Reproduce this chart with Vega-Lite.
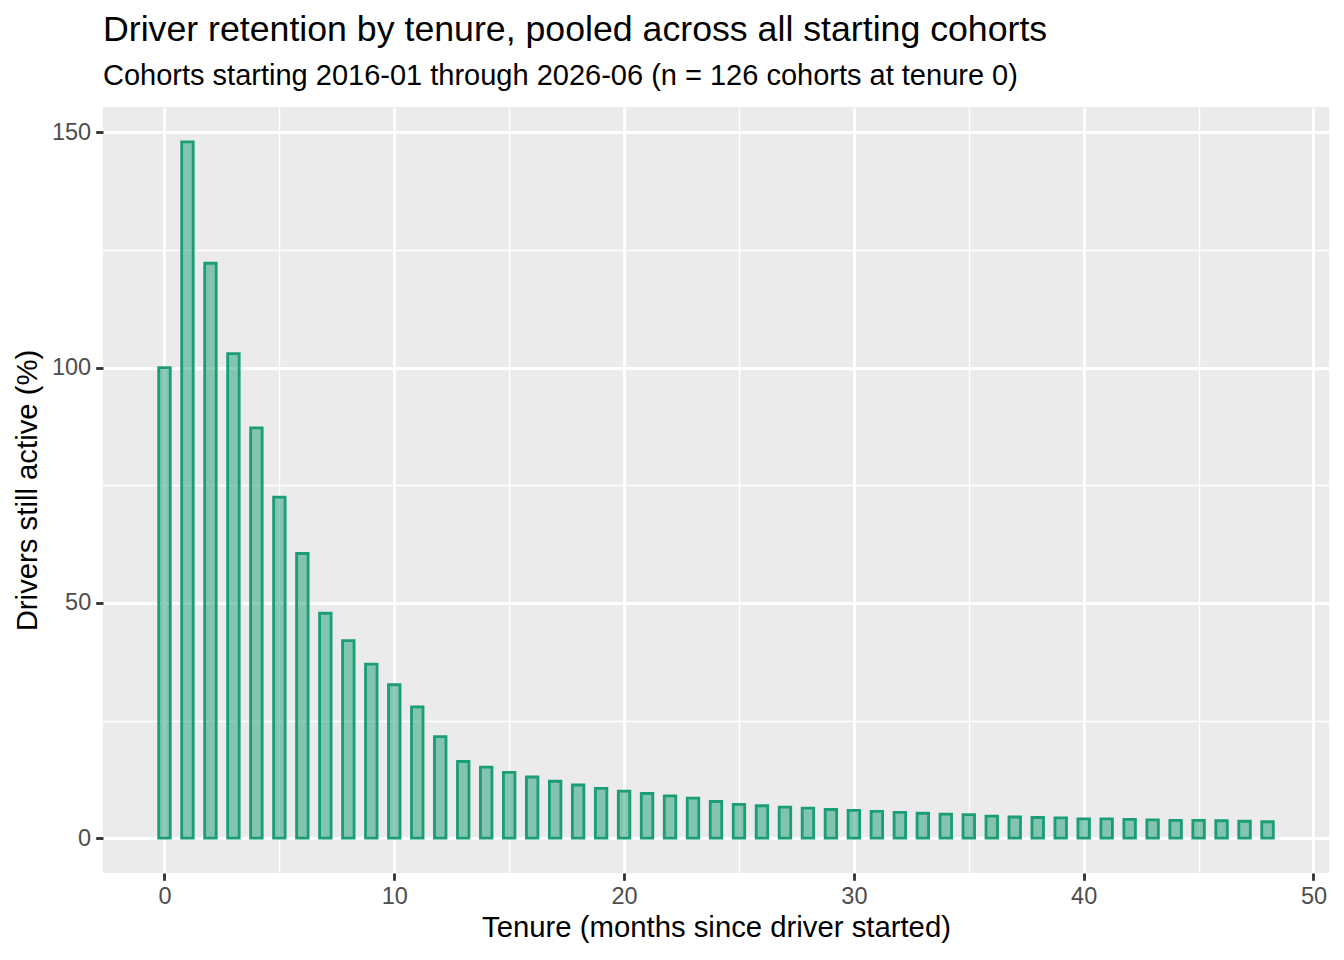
{
  "$schema": "https://vega.github.io/schema/vega-lite/v6.json",
  "title": {
    "text": "Driver retention by tenure, pooled across all starting cohorts",
    "subtitle": "Cohorts starting 2016-01 through 2026-06 (n = 126 cohorts at tenure 0)",
    "anchor": "start",
    "frame": "group",
    "font": "Liberation Sans",
    "fontSize": 35.7,
    "fontWeight": "normal",
    "color": "#000000",
    "subtitleFont": "Liberation Sans",
    "subtitleFontSize": 29.0,
    "subtitleColor": "#000000",
    "subtitlePadding": 13,
    "offset": 15
  },
  "width": 1226,
  "height": 766,
  "autosize": {"type": "none"},
  "padding": {"left": 103, "top": 107, "right": 15, "bottom": 87},
  "background": "#FFFFFF",
  "config": {
    "view": {"fill": "#EBEBEB", "stroke": null},
    "axis": {
      "labelFont": "Liberation Sans",
      "titleFont": "Liberation Sans",
      "labelFontSize": 23.5,
      "labelColor": "#4D4D4D",
      "titleFontSize": 29.3,
      "titleFontWeight": "normal",
      "titleColor": "#000000",
      "domain": false,
      "tickColor": "#333333",
      "tickWidth": 2.84,
      "tickSize": 7.3,
      "gridColor": "#FFFFFF",
      "gridWidth": 2.84
    }
  },
  "data": {
    "values": [
      {"tenure": 0, "pct": 100.0},
      {"tenure": 1, "pct": 148.0},
      {"tenure": 2, "pct": 122.2},
      {"tenure": 3, "pct": 103.0},
      {"tenure": 4, "pct": 87.2},
      {"tenure": 5, "pct": 72.5},
      {"tenure": 6, "pct": 60.5},
      {"tenure": 7, "pct": 47.8},
      {"tenure": 8, "pct": 42.0},
      {"tenure": 9, "pct": 37.0},
      {"tenure": 10, "pct": 32.6},
      {"tenure": 11, "pct": 27.9},
      {"tenure": 12, "pct": 21.6},
      {"tenure": 13, "pct": 16.3},
      {"tenure": 14, "pct": 15.1},
      {"tenure": 15, "pct": 14.0},
      {"tenure": 16, "pct": 13.0},
      {"tenure": 17, "pct": 12.1},
      {"tenure": 18, "pct": 11.3},
      {"tenure": 19, "pct": 10.6},
      {"tenure": 20, "pct": 10.0},
      {"tenure": 21, "pct": 9.5},
      {"tenure": 22, "pct": 9.0},
      {"tenure": 23, "pct": 8.5},
      {"tenure": 24, "pct": 7.8},
      {"tenure": 25, "pct": 7.2},
      {"tenure": 26, "pct": 6.9},
      {"tenure": 27, "pct": 6.6},
      {"tenure": 28, "pct": 6.4},
      {"tenure": 29, "pct": 6.1},
      {"tenure": 30, "pct": 5.9},
      {"tenure": 31, "pct": 5.7},
      {"tenure": 32, "pct": 5.5},
      {"tenure": 33, "pct": 5.3},
      {"tenure": 34, "pct": 5.1},
      {"tenure": 35, "pct": 5.0},
      {"tenure": 36, "pct": 4.7},
      {"tenure": 37, "pct": 4.5},
      {"tenure": 38, "pct": 4.4},
      {"tenure": 39, "pct": 4.3},
      {"tenure": 40, "pct": 4.1},
      {"tenure": 41, "pct": 4.1},
      {"tenure": 42, "pct": 4.0},
      {"tenure": 43, "pct": 3.9},
      {"tenure": 44, "pct": 3.8},
      {"tenure": 45, "pct": 3.8},
      {"tenure": 46, "pct": 3.7},
      {"tenure": 47, "pct": 3.6},
      {"tenure": 48, "pct": 3.5}
    ]
  },
  "layer": [
    {
      "mark": {"type": "point", "opacity": 0},
      "encoding": {
        "x": {
          "field": "tenure",
          "type": "quantitative",
          "axis": {
            "orient": "top",
            "values": [5, 15, 25, 35, 45],
            "labels": false,
            "ticks": false,
            "title": null,
            "grid": true,
            "gridWidth": 1.42
          }
        },
        "y": {
          "field": "pct",
          "type": "quantitative",
          "axis": {
            "orient": "right",
            "values": [25, 75, 125],
            "labels": false,
            "ticks": false,
            "title": null,
            "grid": true,
            "gridWidth": 1.42
          }
        }
      }
    },
    {
      "mark": {
        "type": "bar",
        "size": 11.5,
        "fill": "#1b9e77",
        "fillOpacity": 0.5,
        "stroke": "#1b9e77",
        "strokeWidth": 2.84
      },
      "encoding": {
        "x": {
          "field": "tenure",
          "type": "quantitative",
          "scale": {"domain": [-2.675, 50.675], "nice": false, "zero": false, "padding": 0},
          "axis": {
            "orient": "bottom",
            "values": [0, 10, 20, 30, 40, 50],
            "title": "Tenure (months since driver started)",
            "labelPadding": 4,
            "titlePadding": 6,
            "grid": true
          }
        },
        "y": {
          "field": "pct",
          "type": "quantitative",
          "scale": {"domain": [-7.4, 155.4], "nice": false, "zero": false},
          "axis": {
            "orient": "left",
            "values": [0, 50, 100, 150],
            "title": "Drivers still active (%)",
            "labelPadding": 5,
            "titlePadding": 9,
            "grid": true
          }
        }
      }
    }
  ],
  "resolve": {"axis": {"x": "independent", "y": "independent"}}
}
